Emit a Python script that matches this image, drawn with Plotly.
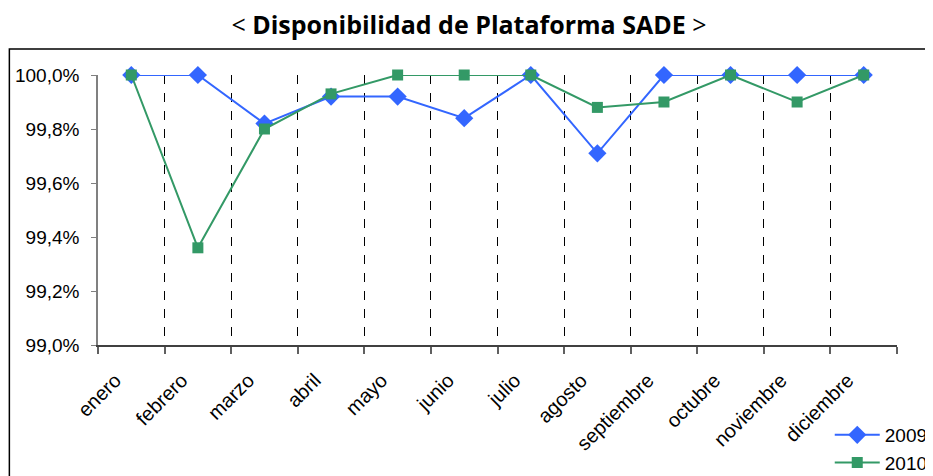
import plotly.graph_objects as go

meses = ["enero", "febrero", "marzo", "abril", "mayo", "junio", "julio",
         "agosto", "septiembre", "octubre", "noviembre", "diciembre"]
serie_2009 = [100.0, 100.0, 99.82, 99.92, 99.92, 99.84, 100.0, 99.71, 100.0, 100.0, 100.0, 100.0]
serie_2010 = [100.0, 99.36, 99.80, 99.93, 100.0, 100.0, 100.0, 99.88, 99.90, 100.0, 99.90, 100.0]
y_ticks = [99.0, 99.2, 99.4, 99.6, 99.8, 100.0]
y_ticktext = ["99,0%", "99,2%", "99,4%", "99,6%", "99,8%", "100,0%"]

# the page body adds an 8px offset; layout numbers below are screen pixels
OFF = 8
SW, SH = 933, 476
W, H = SW - OFF, SH - OFF
L, R, T, B = 97.7, 897.3, 75, 345

fig = go.Figure()
fig.add_trace(go.Scatter(
    x=meses, y=serie_2009, name="2009", mode="lines+markers",
    line=dict(color="#3366FF", width=2),
    marker=dict(symbol="diamond", size=14, color="#3366FF"),
    cliponaxis=False,
))
fig.add_trace(go.Scatter(
    x=meses, y=serie_2010, name="2010", mode="lines+markers",
    line=dict(color="#339966", width=2),
    marker=dict(symbol="square", size=11, color="#339966"),
    cliponaxis=False,
))

def px_x(p):
    return (p - L) / (R - L)

def px_y(p):
    return (B - p) / (B - T)

# chart-area border
fig.add_shape(type="rect", xref="paper", yref="paper",
              x0=px_x(9), x1=px_x(927), y0=px_y(490), y1=px_y(49),
              line=dict(color="#000000", width=1.5), layer="below")

fig.update_layout(
    width=W, height=H,
    margin=dict(l=L - OFF, r=SW - R, t=T - OFF, b=SH - B, pad=0, autoexpand=False),
    paper_bgcolor="white", plot_bgcolor="white",
    font=dict(family="Liberation Sans, Arial, sans-serif", size=19, color="#000000"),
    title=dict(
        text="&lt; <b>Disponibilidad de Plataforma SADE</b> &gt;",
        x=(469 - OFF) / W, xanchor="center", xref="container",
        y=1 - (25 - OFF) / H, yanchor="middle", yref="container",
        font=dict(family="Open Sans, sans-serif", size=25, color="#000000"),
    ),
    showlegend=True,
    legend=dict(
        x=px_x(830), y=px_y(416), xanchor="left", yanchor="top",
        bgcolor="rgba(0,0,0,0)", font=dict(size=19),
        itemwidth=45, tracegroupgap=0,
    ),
    xaxis=dict(
        type="category", tickson="boundaries", automargin=False,
        showgrid=True, gridcolor="#000000", griddash="dash", gridwidth=1,
        showline=True, linecolor="#404040", linewidth=1.5,
        ticks="outside", ticklen=7, tickcolor="#606060", tickwidth=1.5,
        tickangle=-45, ticklabelstandoff=14, ticklabelshift=-16,
        tickfont=dict(size=20),
        range=[-0.5, 11.5], fixedrange=True,
    ),
    yaxis=dict(
        range=[99.0, 100.0], tickvals=y_ticks, ticktext=y_ticktext,
        automargin=False, ticklabelstandoff=8,
        showgrid=False, zeroline=False,
        showline=True, linecolor="#808080", linewidth=1.5,
        ticks="outside", ticklen=5, tickcolor="#808080",
        fixedrange=True,
    ),
)

fig.write_html("out.html")
